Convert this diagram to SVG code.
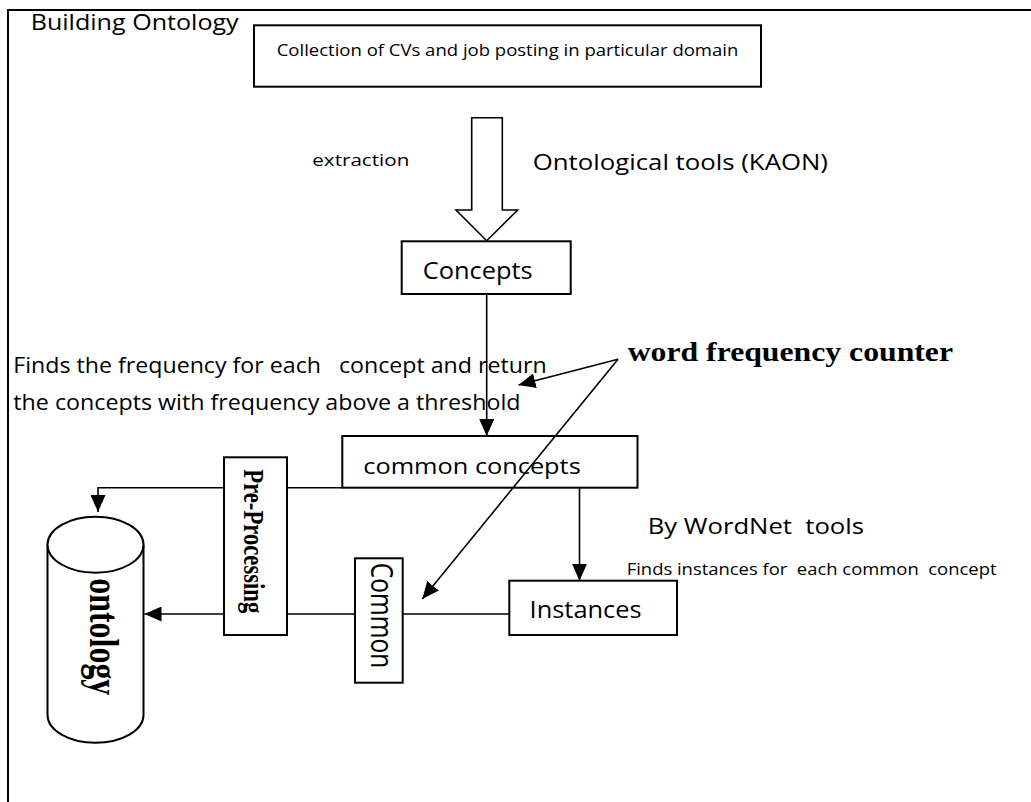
<svg xmlns="http://www.w3.org/2000/svg" width="1031" height="802" viewBox="0 0 1031 802">
<defs>
<marker id="ah" markerUnits="userSpaceOnUse" markerWidth="17" markerHeight="15" refX="17" refY="7.5" orient="auto">
<path d="M0,0 L17,7.5 L0,15 z" fill="#000"/>
</marker>
<style>
.box{fill:#fff;stroke:#000;stroke-width:2}
.ln{fill:none;stroke:#000;stroke-width:1.6}
.sans{font-family:"Open Sans","Liberation Sans",sans-serif;fill:#000;white-space:pre}
.serif{font-family:"Liberation Serif","Times New Roman",serif;font-weight:bold;fill:#000}
</style>
</defs>
<rect width="1031" height="802" fill="#fff"/>
<g id="frame">
<path d="M8,802 L8,10 L1031,10" fill="none" stroke="#000" stroke-width="2"/>
<text class="sans" x="30.7" y="29.5" font-size="21.5" textLength="208" lengthAdjust="spacingAndGlyphs">Building Ontology</text>
</g>
<g id="collection">
<rect class="box" x="254" y="25.3" width="507" height="61.4"/>
<text class="sans" x="276.7" y="56" font-size="16.5" textLength="461.6" lengthAdjust="spacingAndGlyphs">Collection of CVs and job posting in particular domain</text>
</g>
<g id="extraction-arrow">
<polygon points="471.7,117.7 502.3,117.7 502.3,210 517.7,210 486.7,240.7 456,210 471.7,210" fill="#fff" stroke="#000" stroke-width="1.6"/>
<text class="sans" x="312.3" y="166" font-size="17" textLength="97" lengthAdjust="spacingAndGlyphs">extraction</text>
<text class="sans" x="532.7" y="170" font-size="22" textLength="295.3" lengthAdjust="spacingAndGlyphs">Ontological tools (KAON)</text>
</g>
<g id="concepts">
<rect class="box" x="401.7" y="241.3" width="169" height="52.7"/>
<text class="sans" x="422.7" y="279" font-size="24" textLength="110" lengthAdjust="spacingAndGlyphs">Concepts</text>
</g>
<g id="frequency-note">
<text class="sans" xml:space="preserve" x="13.3" y="372.7" font-size="21.5" textLength="533.3" lengthAdjust="spacingAndGlyphs">Finds the frequency for each   concept and return</text>
<text class="sans" x="13.3" y="410" font-size="21.5" textLength="507.2" lengthAdjust="spacingAndGlyphs">the concepts with frequency above a threshold</text>
</g>
<g id="word-frequency-counter">
<text class="serif" x="627.7" y="361" font-size="27" textLength="325.3" lengthAdjust="spacingAndGlyphs">word frequency counter</text>
</g>
<g id="common-concepts">
<rect class="box" x="342.3" y="436" width="295.2" height="51.7"/>
<text class="sans" x="363.3" y="473.5" font-size="22" textLength="217.4" lengthAdjust="spacingAndGlyphs">common concepts</text>
</g>
<g id="wordnet-note">
<text class="sans" xml:space="preserve" x="647.7" y="534.3" font-size="22.5" textLength="216.3" lengthAdjust="spacingAndGlyphs">By WordNet  tools</text>
<text class="sans" xml:space="preserve" x="626.7" y="575" font-size="16.5" textLength="369.8" lengthAdjust="spacingAndGlyphs">Finds instances for  each common  concept</text>
</g>
<g id="instances">
<rect class="box" x="509.3" y="580.7" width="167.7" height="54.3"/>
<text class="sans" x="529.6" y="618.3" font-size="23.5" textLength="112" lengthAdjust="spacingAndGlyphs">Instances</text>
</g>
<g id="pre-processing">
<rect class="box" x="224" y="457.3" width="63" height="177.7"/>
<text class="serif" transform="translate(244,469.3) scale(1.3,1) rotate(90)" x="0" y="0" font-size="22.5" textLength="144" lengthAdjust="spacingAndGlyphs">Pre-Processing</text>
</g>
<g id="common">
<rect class="box" x="355" y="558.3" width="47.7" height="124.4"/>
<text class="sans" transform="translate(371,562.7) scale(1.25,1) rotate(90)" x="0" y="0" font-size="25" textLength="105.6" lengthAdjust="spacingAndGlyphs">Common</text>
</g>
<g id="ontology">
<path d="M47.5,544.7 L47.5,715 A48,27.7 0 0 0 143.5,715 L143.5,544.7" fill="#fff" stroke="#000" stroke-width="2"/>
<ellipse cx="95.5" cy="544.7" rx="48" ry="28" fill="#fff" stroke="#000" stroke-width="2"/>
<text class="serif" transform="translate(90,578.3) scale(1.3,1) rotate(90)" x="0" y="0" font-size="32" textLength="117" lengthAdjust="spacingAndGlyphs">ontology</text>
</g>
<g id="connectors">
<path class="ln" d="M486.7,294 L486.7,436" marker-end="url(#ah)"/>
<path class="ln" d="M579.5,487.7 L579.5,580.7" marker-end="url(#ah)"/>
<path class="ln" d="M509.3,614 L402.7,614 M355,614 L287,614"/>
<path class="ln" d="M224,614 L144.5,614" marker-end="url(#ah)"/>
<path class="ln" d="M342.3,487.7 L287,487.7"/>
<path class="ln" d="M224,487.7 L98,487.7 L98,512" marker-end="url(#ah)"/>
<path class="ln" d="M618,359.3 L518.5,385" marker-end="url(#ah)"/>
<path class="ln" d="M618,359.3 L422.3,599" marker-end="url(#ah)"/>
</g>
</svg>
